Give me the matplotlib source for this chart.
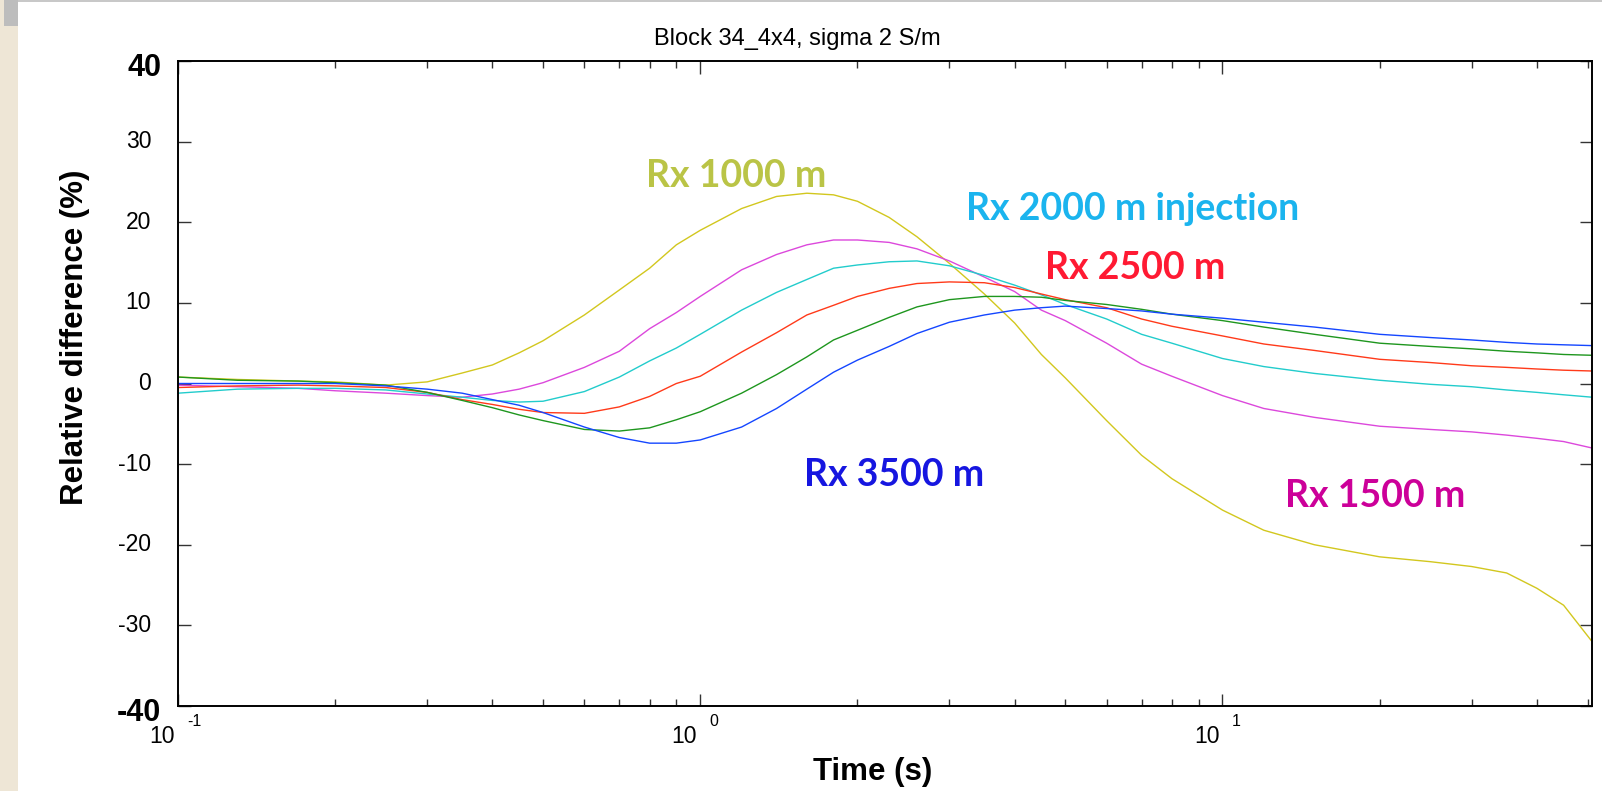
import numpy as np
import matplotlib
matplotlib.use('Agg')
import matplotlib.pyplot as plt
from matplotlib.patches import Rectangle
import matplotlib.transforms as mtransforms
from matplotlib.ticker import LogLocator, NullFormatter, FixedLocator

# ---------------- data ----------------
time_s = [0.1, 0.13, 0.17, 0.2, 0.25, 0.3, 0.35, 0.4, 0.45, 0.5, 0.6, 0.7, 0.8, 0.9,
          1.0, 1.2, 1.4, 1.6, 1.8, 2.0, 2.3, 2.6, 3.0, 3.5, 4.0, 4.5, 5, 6, 7, 8,
          10, 12, 15, 20, 25, 30, 35, 40, 45, 51]

rx1000 = [0.8, 0.5, 0.3, 0.2, -0.2, 0.2, 1.3, 2.3, 3.8, 5.3, 8.5, 11.6, 14.3, 17.2,
          19.0, 21.7, 23.2, 23.6, 23.4, 22.6, 20.6, 18.2, 14.9, 11.1, 7.5, 3.6, 0.7, -4.6, -8.9, -11.8,
          -15.7, -18.2, -20.0, -21.5, -22.1, -22.7, -23.5, -25.4, -27.5, -32.0]
rx1500 = [-0.2, -0.4, -0.6, -0.9, -1.2, -1.5, -1.7, -1.3, -0.7, 0.1, 2.0, 4.0, 6.8, 8.8,
          10.8, 14.1, 16.0, 17.2, 17.8, 17.8, 17.5, 16.7, 15.2, 13.2, 11.4, 9.1, 7.8, 5.0, 2.4, 0.9,
          -1.5, -3.1, -4.2, -5.3, -5.7, -6.0, -6.4, -6.8, -7.2, -8.0]
rx2000 = [-1.2, -0.7, -0.6, -0.6, -0.8, -1.3, -1.7, -2.1, -2.3, -2.2, -1.0, 0.8, 2.8, 4.4,
          6.1, 9.1, 11.3, 12.9, 14.3, 14.7, 15.1, 15.2, 14.6, 13.4, 12.2, 11.0, 9.8, 8.0, 6.1, 5.0,
          3.1, 2.1, 1.25, 0.4, -0.1, -0.4, -0.8, -1.1, -1.4, -1.7]
rx2500 = [-0.5, -0.3, -0.2, -0.3, -0.5, -1.1, -2.0, -2.6, -3.2, -3.6, -3.7, -2.9, -1.6, 0.0,
          0.9, 3.9, 6.3, 8.5, 9.7, 10.8, 11.8, 12.4, 12.6, 12.5, 11.9, 11.1, 10.4, 9.4, 8.0, 7.1,
          5.9, 4.9, 4.1, 3.0, 2.6, 2.2, 2.0, 1.8, 1.65, 1.55]
rx3000 = [0.8, 0.4, 0.3, 0.1, -0.2, -1.1, -2.1, -3.0, -3.9, -4.6, -5.7, -5.9, -5.5, -4.5,
          -3.5, -1.2, 1.1, 3.3, 5.4, 6.6, 8.2, 9.5, 10.4, 10.8, 10.8, 10.7, 10.3, 9.8, 9.2, 8.6,
          7.8, 7.0, 6.1, 5.0, 4.6, 4.3, 4.0, 3.8, 3.6, 3.5]
rx3500 = [0.0, 0.0, 0.0, 0.0, -0.3, -0.7, -1.2, -2.0, -2.7, -3.6, -5.4, -6.7, -7.4, -7.4,
          -7.0, -5.4, -3.1, -0.7, 1.4, 2.9, 4.6, 6.2, 7.6, 8.5, 9.1, 9.4, 9.6, 9.3, 9.0, 8.6,
          8.1, 7.6, 7.0, 6.1, 5.7, 5.4, 5.1, 4.9, 4.8, 4.7]

series = [rx1000, rx1500, rx2000, rx2500, rx3000, rx3500]
line_colors = ['#D2C71E', '#DC48DC', '#22CCCC', '#FF3A1A', '#1E961E', '#1446FF']

annot_texts = ['Rx 1000 m', 'Rx 2000 m injection', 'Rx 2500 m', 'Rx 3500 m', 'Rx 1500 m']
annot_colors = ['#BAC446', '#1BB4EE', '#FF1A33', '#1616E0', '#CC0099']
annot_pos = [(0.331, 0.822), (0.557, 0.771), (0.613, 0.679), (0.443, 0.358), (0.783, 0.326)]

yticks = [-40, -30, -20, -10, 0, 10, 20, 30, 40]
xdecades = [0.1, 1, 10]
xexp = ['-1', '0', '1']

title = 'Block 34_4x4, sigma 2 S/m'
xlabel = 'Time (s)'
ylabel = 'Relative difference (%)'

# ---------------- figure ----------------
W, H = 1602, 791
fig = plt.figure(figsize=(W / 100, H / 100), dpi=100)
fig.patch.set_facecolor('white')

# decorative left strip / top bar from the slide
fig.patches.append(Rectangle((0, 0), 18 / W, 1, transform=fig.transFigure,
                             facecolor='#EEE6D6', edgecolor='none', zorder=0))
fig.patches.append(Rectangle((4 / W, 1 - 26 / H), 14 / W, 26 / H, transform=fig.transFigure,
                             facecolor='#BDBDBD', edgecolor='none', zorder=1))
fig.patches.append(Rectangle((18 / W, 1 - 2 / H), 1 - 18 / W, 2 / H, transform=fig.transFigure,
                             facecolor='#C8C8C8', edgecolor='none', zorder=1))

ax = fig.add_axes([178 / W, 1 - 706 / H, (1592 - 178) / W, (706 - 61) / H])
ax.set_xscale('log')
for vals, c in zip(series, line_colors):
    ax.plot(time_s, vals, color=c, lw=1.0)

ax.set_xlim(0.1, 51)
ax.set_ylim(-40, 40)

for sp in ax.spines.values():
    sp.set_linewidth(1.4)
    sp.set_color('black')

ax.yaxis.set_major_locator(FixedLocator(yticks))
ax.xaxis.set_major_locator(FixedLocator(xdecades))
ax.xaxis.set_minor_locator(LogLocator(base=10, subs=np.arange(2, 10)))
ax.xaxis.set_minor_formatter(NullFormatter())
ax.tick_params(axis='both', which='major', direction='in', length=9, width=1.0,
               color='#333333', top=True, right=True, labelleft=False, labelbottom=False)
ax.tick_params(axis='both', which='minor', direction='in', length=5, width=1.0,
               color='#333333', top=True, right=True)

FONT = 'Liberation Sans'
# y tick labels
ytr = ax.get_yaxis_transform()
for v in yticks:
    if abs(v) == 40:
        ax.text(-0.012, v, str(v), transform=mtransforms.offset_copy(ytr, fig=fig, x=0, y=-7, units='dots'),
                ha='right', va='center', fontsize=22, fontweight='bold', family=FONT)
    else:
        ax.text(-0.019, v, str(v), transform=ytr, ha='right', va='center',
                fontsize=16.5, family=FONT)

# x tick labels 10^n
xtr = ax.get_xaxis_transform()
for d, e in zip(xdecades, xexp):
    ax.text(d, 0, '10', transform=mtransforms.offset_copy(xtr, fig=fig, x=-3, y=-37, units='dots'),
            ha='right', va='baseline', fontsize=16.5, family=FONT)
    ax.text(d, 0, e, transform=mtransforms.offset_copy(xtr, fig=fig, x=9, y=-20, units='dots'),
            ha='left', va='baseline', fontsize=11.5, family=FONT)

# annotations
for t, c, (px, py) in zip(annot_texts, annot_colors, annot_pos):
    ax.text(px, py, t, transform=ax.transAxes, color=c, fontsize=27, fontweight='bold',
            family='Lato', ha='left', va='center')

fig.text(797 / W, 1 - 39 / H, title, ha='center', va='center', fontsize=17, family=FONT)
fig.text(873 / W, 1 - 772 / H, xlabel, ha='center', va='center', fontsize=22.5,
         fontweight='bold', family=FONT)
fig.text(75 / W, 1 - 337 / H, ylabel, ha='center', va='center', rotation=90, fontsize=22.5,
         fontweight='bold', family=FONT)

fig.savefig('out.png', dpi=100)
